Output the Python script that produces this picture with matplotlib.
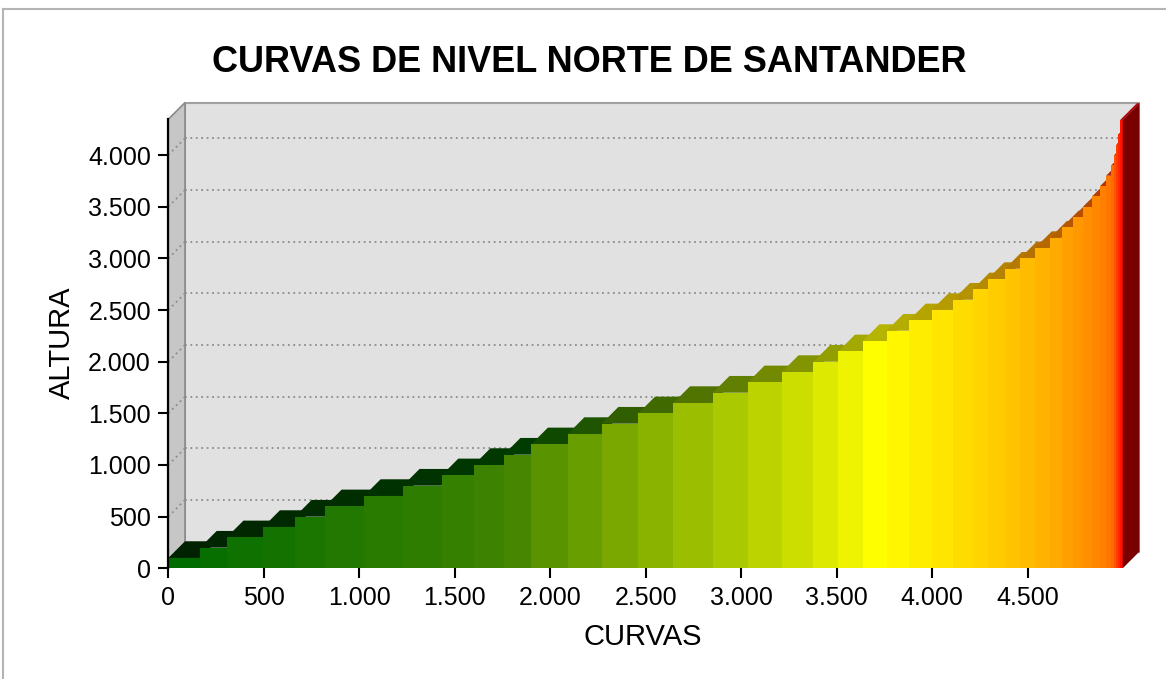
import matplotlib
matplotlib.use("Agg")
from matplotlib import pyplot as plt
from matplotlib.colors import LinearSegmentedColormap, to_rgb
from matplotlib.patches import Polygon
from matplotlib.lines import Line2D

plt.rcParams["font.family"] = ["Liberation Sans", "DejaVu Sans"]

# altura de cada escalón (m) y curva donde empieza
alturas = [100, 200, 300, 400, 500, 600, 700, 800, 900, 1000,
           1100, 1200, 1300, 1400, 1500, 1600, 1700, 1800, 1900, 2000,
           2100, 2200, 2300, 2400, 2500, 2600, 2700, 2800, 2900, 3000,
           3100, 3200, 3300, 3400, 3500, 3600, 3700, 3800, 3900, 4000,
           4100, 4200, 4340]
inicio = [0, 166, 306, 497, 663, 820, 1024, 1228, 1431, 1599,
          1756, 1900, 2091, 2269, 2461, 2644, 2851, 3034, 3212, 3378,
          3508, 3636, 3761, 3878, 3997, 4110, 4212, 4290, 4381, 4459,
          4538, 4617, 4679, 4737, 4790, 4837, 4879, 4910, 4937, 4953,
          4963, 4974, 4984]
total_curvas = 4997

x_ticks = list(range(0, 5000, 500))
y_ticks = list(range(0, 4500, 500))

W, H = 1166, 679
fig = plt.figure(figsize=(W / 100, H / 100), dpi=100)
left, right, bottom, top = 168.3, 1122.7, 568.3, 119.3
ax = fig.add_axes([left / W, 1 - bottom / H, (right - left) / W, (bottom - top) / H])
xmax, ymax = total_curvas, 4346
ax.set_xlim(0, xmax)
ax.set_ylim(0, ymax)

# profundidad del efecto 3D en unidades de datos
depth_px = 16.7
dx = depth_px * xmax / (right - left)
dy = depth_px * ymax / (bottom - top)

# pared del fondo y pared lateral
ax.add_patch(Polygon([(dx, dy), (xmax + dx, dy), (xmax + dx, ymax + dy), (dx, ymax + dy)],
                     closed=True, facecolor="#e1e1e1", edgecolor="#a0a0a0", lw=1.5,
                     clip_on=False, zorder=1))
ax.add_patch(Polygon([(0, 0), (0, ymax), (dx, ymax + dy), (dx, dy)],
                     closed=True, facecolor="#c6c6c6", edgecolor="#8a8a8a", lw=1.2,
                     clip_on=False, zorder=1))
for yv in y_ticks[1:]:
    ax.plot([dx, xmax + dx], [yv + dy, yv + dy], color="#8c8c8c", lw=1.3,
            ls=(0, (1, 2)), clip_on=False, zorder=2)
    ax.plot([0, dx], [yv, yv + dy], color="#8c8c8c", lw=1.3,
            ls=(0, (1, 2)), clip_on=False, zorder=2)

cmap = LinearSegmentedColormap.from_list(
    "relieve",
    [(0.0, "#006c00"), (0.23, "#428400"), (0.5, "#ffff00"),
     (0.72, "#ffb000"), (0.9, "#ff7000"), (1.0, "#ff1000")])

fin = inicio[1:] + [total_curvas]
n = len(alturas)
for i, (x0, x1, h) in enumerate(zip(inicio, fin, alturas)):
    c = cmap(i / (n - 1))
    r, g, b = to_rgb(c)
    dark = (max(r - 0.29, 0), max(g - 0.29, 0), max(b - 0.29, 0))
    ax.add_patch(Polygon([(x0, h), (x1, h), (x1 + dx, h + dy), (x0 + dx, h + dy)],
                         closed=True, facecolor=dark, edgecolor="none",
                         clip_on=False, zorder=3))
    ax.add_patch(Polygon([(x0, 0), (x1, 0), (x1, h), (x0, h)],
                         closed=True, facecolor=c, edgecolor="none",
                         clip_on=False, zorder=4))

# cara lateral del último escalón
hl = alturas[-1]
ax.add_patch(Polygon([(xmax, 0), (xmax, hl), (xmax + dx, hl + dy), (xmax + dx, dy)],
                     closed=True, facecolor="#7a0000", edgecolor="none",
                     clip_on=False, zorder=4))

fmt = lambda v: f"{v:,}".replace(",", ".")
ax.set_xticks(x_ticks)
ax.set_xticklabels([fmt(v) for v in x_ticks])
ax.set_yticks(y_ticks)
ax.set_yticklabels([fmt(v) for v in y_ticks])
ax.tick_params(direction="out", length=7.5, width=1.5, colors="black",
               labelsize=18, pad=5)
for s in ["top", "right", "bottom"]:
    ax.spines[s].set_visible(False)
ax.spines["left"].set_linewidth(1.6)
ax.spines["left"].set_zorder(5)
ax.patch.set_visible(False)

fig.text(589 / W, 1 - 62 / H, "CURVAS DE NIVEL NORTE DE SANTANDER",
         ha="center", va="center", fontsize=26, fontweight="bold")
fig.text(62 / W, 1 - 343 / H, "ALTURA", ha="center", va="center",
         rotation=90, fontsize=21)
fig.text(643 / W, 1 - 637 / H, "CURVAS", ha="center", va="center", fontsize=21)

# marco del gráfico
fig.add_artist(Line2D([3 / W, 1], [1 - 9 / H, 1 - 9 / H], color="#b4b4b4", lw=1.5))
fig.add_artist(Line2D([3 / W, 3 / W], [0, 1 - 9 / H], color="#b4b4b4", lw=1.5))

fig.savefig("out.png", dpi=100)
